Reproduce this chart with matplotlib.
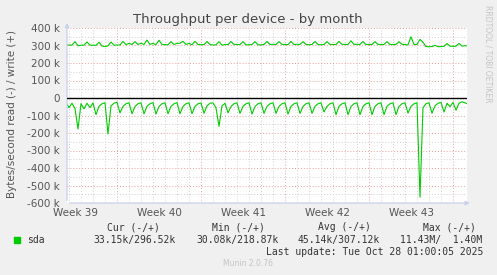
import numpy as np
import matplotlib
matplotlib.use('Agg')
import matplotlib.pyplot as plt
from matplotlib.patches import Rectangle

# ---- data (k bytes/s), one sample every 6 hours
write_k = [303, 303, 302, 322, 298, 302, 302, 320, 302, 302, 301, 318, 297, 294, 298, 320,
           302, 303, 303, 323, 305, 312, 306, 322, 306, 313, 306, 331, 306, 312, 305, 330,
           306, 305, 304, 322, 306, 312, 313, 324, 306, 312, 304, 324, 306, 305, 305, 323,
           305, 303, 304, 322, 302, 306, 305, 323, 306, 306, 305, 322, 303, 305, 306, 322,
           304, 304, 306, 323, 306, 307, 306, 322, 306, 306, 305, 323, 306, 307, 306, 322,
           306, 304, 306, 323, 306, 304, 306, 322, 306, 305, 306, 323, 307, 306, 306, 327,
           306, 307, 306, 323, 306, 306, 306, 322, 306, 306, 306, 322, 306, 306, 306, 322,
           306, 306, 303, 350, 306, 306, 335, 318, 294, 293, 294, 301, 293, 294, 295, 311,
           296, 295, 296, 312, 297, 299, 297]
read_k = [-25, -55, -30, -60, -177, -32, -62, -30, -55, -28, -95, -48, -33, -27, -206, -45,
          -30, -24, -85, -48, -33, -27, -90, -48, -33, -27, -90, -48, -33, -26, -92, -48,
          -33, -27, -90, -48, -33, -26, -90, -48, -33, -27, -90, -48, -33, -28, -87, -45,
          -30, -28, -57, -162, -45, -30, -85, -48, -33, -27, -88, -48, -33, -27, -92, -48,
          -33, -27, -88, -48, -33, -27, -88, -48, -33, -27, -92, -48, -33, -27, -88, -48,
          -33, -27, -88, -48, -33, -27, -80, -48, -33, -27, -95, -48, -33, -27, -95, -48,
          -33, -27, -95, -48, -33, -27, -95, -48, -33, -27, -95, -48, -33, -27, -95, -48,
          -33, -27, -87, -48, -33, -27, -567, -55, -33, -27, -87, -45, -30, -25, -80, -30,
          -50, -25, -70, -30, -22, -28, -33]
t_days = np.arange(len(write_k)) * 0.25 - 1.0 / 12

span_days = 400.0 / 12
week_start = [4.167, 11.167, 18.167, 25.167, 32.167]
week_labels = ['Week 39', 'Week 40', 'Week 41', 'Week 42', 'Week 43']
ytick_vals = [-600, -500, -400, -300, -200, -100, 0, 100, 200, 300, 400]
ytick_labels = ['-600 k', '-500 k', '-400 k', '-300 k', '-200 k', '-100 k', '0',
                '100 k', '200 k', '300 k', '400 k']

legend_head = ['Cur (-/+)', 'Min (-/+)', 'Avg (-/+)', 'Max (-/+)']
legend_vals = ['33.15k/296.52k', '30.08k/218.87k', '45.14k/307.12k', '11.43M/  1.40M']
legend_name = 'sda'
last_update = 'Last update: Tue Oct 28 01:00:05 2025'

W, H = 497, 275
txt = '#555555'
green = '#00cc00'

fig = plt.figure(figsize=(W / 100, H / 100), dpi=100)
fig.patch.set_facecolor('#f0f0f0')
ax = fig.add_axes([67 / W, 1 - 203 / H, 400 / W, 175 / H])
ax.set_facecolor('white')

ax.plot(t_days, write_k, color=green, lw=0.8, zorder=3)
ax.plot(t_days, read_k, color=green, lw=0.8, zorder=3)
ax.axhline(0, color='black', lw=1.0, zorder=4)

ax.set_xlim(0, span_days)
ax.set_ylim(-600, 400)

ax.set_yticks(ytick_vals)
ax.set_yticklabels(ytick_labels)
ax.set_yticks(np.arange(-550, 400, 100), minor=True)
ax.set_xticks(week_start)
ax.set_xticklabels([])
ax.set_xticks([w + d for w in [-2.833] for d in range(36) if 0 < w + d < span_days], minor=True)

ax.grid(which='major', color='#e8a0a0', lw=0.7, ls=(0, (1, 2)))
ax.grid(which='minor', color='#d0d0d0', lw=0.7, ls=(0, (1, 2)))
ax.set_axisbelow(True)

ax.tick_params(axis='both', which='both', length=0, labelsize=7.5, labelcolor=txt)
ax.tick_params(axis='y', pad=5)
for s in ax.spines.values():
    s.set_visible(False)

for pos, lab in zip(week_start, week_labels):
    ax.text(pos - 3.5, -0.055, lab, transform=ax.get_xaxis_transform(),
            ha='center', va='center', fontsize=7.5, color=txt)

axis_col = '#c8d0f0'
ax.annotate('', xy=(0, 1.045), xytext=(0, 0), xycoords='axes fraction',
            arrowprops=dict(arrowstyle='-|>', color=axis_col, lw=0.9, mutation_scale=6),
            annotation_clip=False)
ax.annotate('', xy=(1.014, 0), xytext=(0, 0), xycoords='axes fraction',
            arrowprops=dict(arrowstyle='-|>', color=axis_col, lw=0.9, mutation_scale=6),
            annotation_clip=False)

fig.text(248 / W, 1 - 19 / H, 'Throughput per device - by month', ha='center', va='center',
         fontsize=9.5, color='#444444')
fig.text(12 / W, 1 - 114 / H, 'Bytes/second read (-) / write (+)', rotation=90,
         ha='center', va='center', fontsize=7.5, color=txt)
fig.text(488 / W, 1 - 5 / H, 'RRDTOOL / TOBI OETIKER', rotation=270, ha='center', va='top',
         fontsize=5.5, color='#c4c4c4')

mono = 'DejaVu Sans Mono'
for x, s in zip([107, 212, 318, 423], legend_head):
    fig.text(x / W, 1 - 227 / H, s, ha='left', va='center', family=mono, fontsize=7, color='#333333')
fig.patches.append(Rectangle((14 / W, 1 - 243 / H), 6 / W, 6 / H, transform=fig.transFigure,
                             color=green, figure=fig))
fig.text(27 / W, 1 - 240 / H, legend_name, ha='left', va='center', family=mono, fontsize=7, color='#333333')
for x, s in zip([93, 196, 298, 400], legend_vals):
    fig.text(x / W, 1 - 240 / H, s, ha='left', va='center', family=mono, fontsize=7, color='#333333')
fig.text(483 / W, 1 - 252 / H, last_update, ha='right', va='center', family=mono, fontsize=7, color='#333333')
fig.text(248 / W, 1 - 264 / H, 'Munin 2.0.76', ha='center', va='center', fontsize=5.5, color='#c4c4c4')

fig.savefig('out.png', dpi=100, facecolor=fig.get_facecolor())
